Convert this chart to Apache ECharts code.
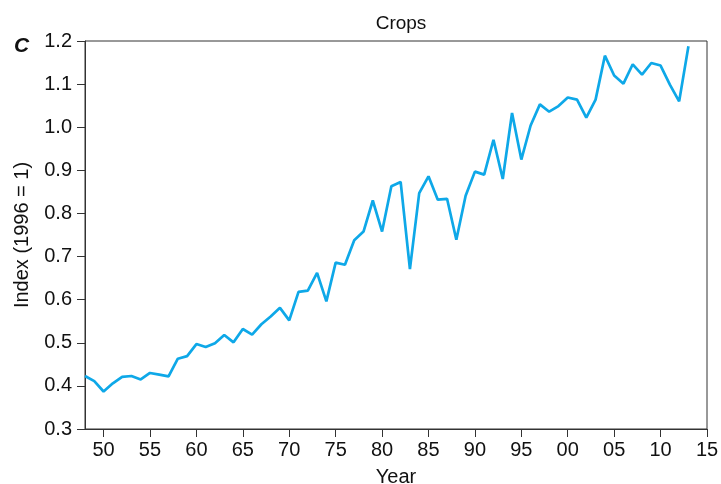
<!DOCTYPE html>
<html>
<head>
<meta charset="utf-8">
<script src="https://cdn.jsdelivr.net/npm/echarts@6/dist/echarts.min.js"></script>
<style>html,body{margin:0;padding:0;background:#fff;}#c{width:721px;height:484px;}</style>
</head>
<body>
<div id="c"></div>
<script>
var years = [];
for (var y = 1948; y <= 2013; y++) years.push(y);
var values = [
  0.423, 0.411, 0.387, 0.406, 0.421, 0.423, 0.415, 0.430, 0.426, 0.422,
  0.463, 0.469, 0.497, 0.490, 0.499, 0.518, 0.501, 0.532, 0.519, 0.543,
  0.561, 0.581, 0.552, 0.618, 0.621, 0.662, 0.596, 0.686, 0.681, 0.738,
  0.758, 0.830, 0.758, 0.863, 0.873, 0.671, 0.847, 0.886, 0.832, 0.834,
  0.739, 0.841, 0.897, 0.890, 0.971, 0.880, 1.033, 0.925, 1.004, 1.053,
  1.036, 1.049, 1.069, 1.064, 1.022, 1.064, 1.166, 1.120, 1.101, 1.146,
  1.122, 1.149, 1.143, 1.099, 1.060, 1.188
];
var xTicks = [1950, 1955, 1960, 1965, 1970, 1975, 1980, 1985, 1990, 1995, 2000, 2005, 2010, 2015];
var yMin = 0.3, yMax = 1.2, yStep = 0.1;

var data = years.map(function (yr, i) { return [yr, values[i]]; });
var font = 'Liberation Sans, Arial, Helvetica, sans-serif';

var chart = echarts.init(document.getElementById('c'), null, {renderer: 'canvas'});
chart.setOption({
  animation: false,
  title: [{
    text: 'Crops', left: 396, top: 9, textAlign: 'center',
    textStyle: {fontFamily: font, fontSize: 19, fontWeight: 'normal', color: '#111'}
  }, {
    text: 'C', left: 9, top: 31,
    textStyle: {fontFamily: font, fontSize: 21, fontWeight: 'bold', fontStyle: 'italic', color: '#111'}
  }],
  grid: {left: 85, right: 14, top: 41, bottom: 55, containLabel: false, outerBoundsMode: 'none',
    show: true, borderColor: '#333', borderWidth: 1, backgroundColor: 'transparent'},
  xAxis: {
    type: 'value', min: 1948, max: 2015,
    name: 'Year', nameLocation: 'middle', nameGap: 38,
    nameTextStyle: {fontFamily: font, fontSize: 20, color: '#111'},
    axisLine: {show: true, onZero: false, lineStyle: {color: '#333', width: 1}},
    axisTick: {show: true, length: 8, inside: false, customValues: xTicks, lineStyle: {color: '#333'}},
    axisLabel: {customValues: xTicks, fontFamily: font, fontSize: 20, color: '#111', margin: 11,
      formatter: function (v) { var s = String(v % 100); return s.length < 2 ? '0' + s : s; }},
    splitLine: {show: false}
  },
  yAxis: {
    type: 'value', min: yMin, max: yMax, interval: yStep,
    name: 'Index (1996 = 1)', nameLocation: 'middle', nameGap: 53, nameRotate: 90,
    nameTextStyle: {fontFamily: font, fontSize: 20, color: '#111'},
    axisLine: {show: true, lineStyle: {color: '#333', width: 1}},
    axisTick: {show: true, length: 8, inside: false, lineStyle: {color: '#333'}},
    axisLabel: {fontFamily: font, fontSize: 20, color: '#111', margin: 13,
      formatter: function (v) { return v.toFixed(1); }},
    splitLine: {show: false}
  },
  series: [{
    type: 'line', data: data, showSymbol: false, symbol: 'none',
    lineStyle: {color: '#0ea8e8', width: 2.7}
  }]
});
</script>
</body>
</html>
